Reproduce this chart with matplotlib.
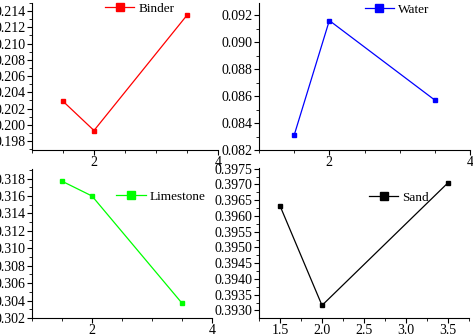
import matplotlib
matplotlib.use("Agg")
import matplotlib.pyplot as plt
from matplotlib.ticker import MultipleLocator, FormatStrFormatter

plt.rcParams['font.family'] = ['Liberation Serif', 'DejaVu Serif']
plt.rcParams['font.size'] = 10

# data
x = [1.5, 2.0, 3.5]
binder = [0.2029, 0.1993, 0.2135]
water = [0.0831, 0.0916, 0.0857]
limestone = [0.3177, 0.3160, 0.3037]
sand = [0.39632, 0.39316, 0.39705]

W, H = 473, 335
fig = plt.figure(figsize=(W / 100, H / 100), dpi=100)


def box(l, r, t, b):
    # pixel box -> figure fraction
    return [l / W, 1 - b / H, (r - l) / W, (b - t) / H]


def style(ax):
    for s in ['top', 'right']:
        ax.spines[s].set_visible(False)
    ax.tick_params(which='major', direction='out', length=3.5, width=0.8, pad=1)
    ax.tick_params(which='minor', direction='out', length=2, width=0.6)


panels = [
    # (data, label, colour, box, ylim, ystep, fmt, xlim, xmajor, xminor, legend pos)
    (binder, 'Binder', '#ff0000', box(32, 218, 3, 150), (0.1969, 0.2150), 0.002, '%.3f',
     (1, 4), 2, 0.5, (0.365, 1.04)),
    (water, 'Water', '#0000ff', box(259, 470, 3, 150), (0.0820, 0.0929), 0.002, '%.3f',
     (1, 4), 2, 0.5, (0.475, 1.03)),
    (limestone, 'Limestone', '#00ff00', box(32, 212, 169, 318), (0.3020, 0.3191), 0.002, '%.3f',
     (1, 4), 2, 0.5, (0.44, 0.89)),
    (sand, 'Sand', '#000000', box(259, 469, 168, 318), (0.39276, 0.39752), 0.0005, '%.4f',
     (1.25, 3.75), 0.5, 0.25, (0.50, 0.88)),
]

for vals, lab, col, rect, ylim, ystep, fmt, xlim, xmaj, xmin, lpos in panels:
    ax = fig.add_axes(rect)
    ax.plot(x, vals, color=col, lw=0.9, marker='s', ms=3.2, mec=col, mfc=col, label=lab)
    ax.set_xlim(*xlim)
    ax.set_ylim(*ylim)
    ax.xaxis.set_major_locator(MultipleLocator(xmaj))
    ax.xaxis.set_minor_locator(MultipleLocator(xmin))
    ax.yaxis.set_major_locator(MultipleLocator(ystep))
    ax.yaxis.set_minor_locator(MultipleLocator(ystep / 2))
    ax.yaxis.set_major_formatter(FormatStrFormatter(fmt))
    if xmaj == 0.5:
        ax.xaxis.set_major_formatter(FormatStrFormatter('%.1f'))
    else:
        ax.xaxis.set_major_formatter(FormatStrFormatter('%d'))
    style(ax)
    ax.legend(loc='upper left', bbox_to_anchor=lpos, frameon=False, markerscale=2,
              handlelength=2.2, handletextpad=0.3, borderaxespad=0, fontsize=9.5)

fig.savefig('out.png', dpi=100)
